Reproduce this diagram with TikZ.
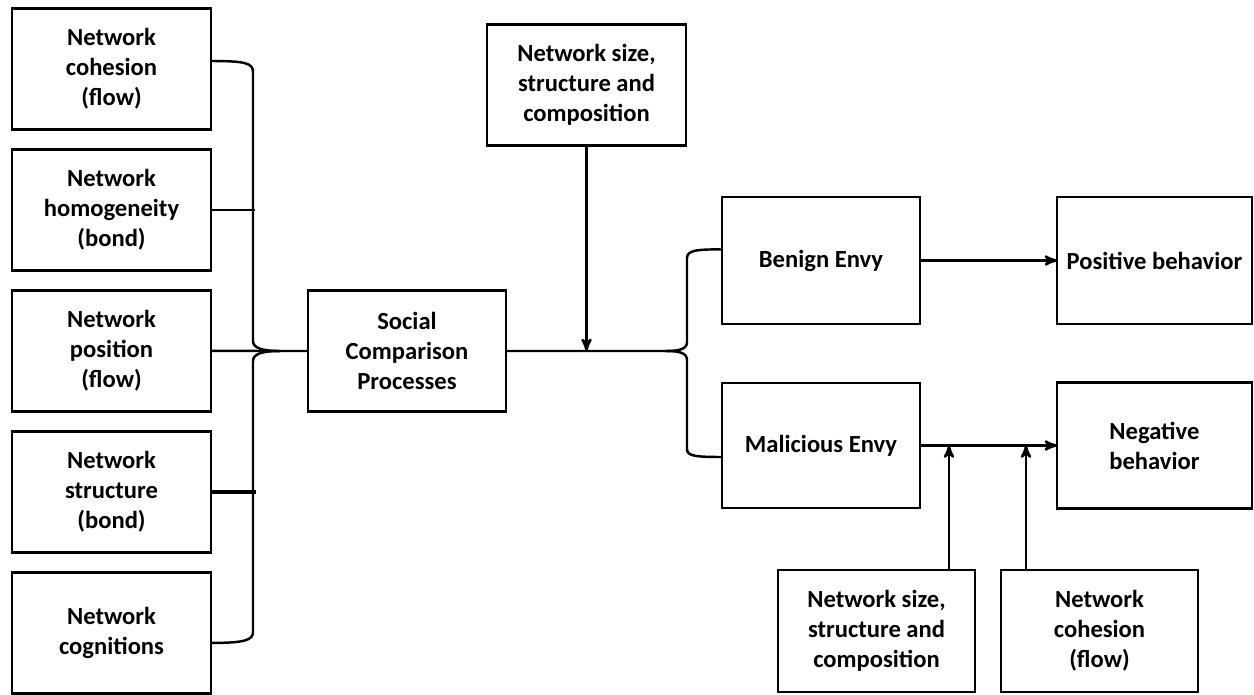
\documentclass[tikz,border=0pt]{standalone}
\usepackage{fontspec}
\setmainfont{Carlito}
\usepackage{tikz}
\usetikzlibrary{arrows,positioning}

\begin{document}
\begin{tikzpicture}[x=0.02cm,y=-0.02cm,>=stealth',node distance=0.4cm,
  var node/.style={rectangle,draw,line width=1.6pt,align=center,outer sep=0pt,
    inner sep=2pt,minimum width=3.98cm,minimum height=2.42cm,
    font=\bfseries\fontsize{14}{17}\selectfont},
  link/.style={line width=1.4pt},
  fat link/.style={line width=2.4pt}]

  \useasboundingbox (0,0) rectangle (1254,694);

  % left column
  \node[var node] (c1) at (111.5,69) {Network\\cohesion\\(flow)};
  \node[var node] (c2) [below=of c1] {Network\\homogeneity\\(bond)};
  \node[var node] (c3) [below=of c2] {Network\\position\\(flow)};
  \node[var node] (c4) [below=of c3] {Network\\structure\\(bond)};
  \node[var node] (c5) [below=of c4] {Network\\cognitions};

  % middle
  \node[var node,minimum width=3.96cm] (soc) at (407,351) {Social\\Comparison\\Processes};
  \node[var node] (size) at (586.5,85) {Network size,\\structure and\\composition};

  % right part
  \node[var node,minimum width=3.96cm,minimum height=2.54cm] (benign) at (821,260.5) {Benign Envy};
  \node[var node,minimum width=3.96cm,minimum height=2.5cm] (malic) at (821,445.5) {Malicious Envy};
  \node[var node,minimum width=3.9cm,minimum height=2.54cm] (pos) [right=2.74cm of benign] {Positive behavior};
  \node[var node,minimum width=3.9cm,minimum height=2.52cm] (neg) [right=2.74cm of malic] {Negative\\behavior};
  \node[var node,minimum width=3.94cm,minimum height=2.44cm] (size2) at (876.5,631) {Network size,\\structure and\\composition};
  \node[var node,minimum width=3.94cm,minimum height=2.44cm] (coh2) at (1099.5,631) {Network\\cohesion\\(flow)};

  \coordinate (lspine) at (253,351);
  \coordinate (j1) at (949,445.5);
  \coordinate (j2) at (1026,445.5);

  % left brace
  \draw[link] ([yshift=0.16cm]c1.east) .. controls (245,61) and (253,63) .. (253,72)
    -- (253,341) .. controls (253,348) and (262,351) .. (280,351);
  \draw[link] (280,351) .. controls (262,351) and (253,354) .. (253,361)
    -- (253,632) .. controls (253,640) and (245,643) .. ([yshift=-0.2cm]c5.east);
  \draw[link] (c2.east) -- ([xshift=0.04cm]c2.east -| lspine);
  \draw[link] (c3.east) -- (soc.west);
  \draw[fat link] (c4.east) -- ([xshift=0.06cm]c4.east -| lspine);

  % right brace
  \draw[link] (soc.east) -- (665,351) .. controls (680,351) and (687,349) .. (687,342)
    -- (687,258) .. controls (687,251) and (695,249) .. ([yshift=0.22cm]benign.west);
  \draw[link] (665,351) .. controls (680,351) and (687,353) .. (687,360)
    -- (687,449) .. controls (687,456) and (695,457) .. ([yshift=-0.23cm]malic.west);
  \draw[link,->] (size.south) -- (size.south |- soc.east);

  % outcomes
  \draw[link,->] (benign) -- (pos);
  \draw[link,->] (malic.east) -- (malic.east -| neg.west);
  \draw[link,->] (j1 |- size2.north) -- (j1);
  \draw[link,->] (j2 |- coh2.north) -- (j2);
\end{tikzpicture}
\end{document}
